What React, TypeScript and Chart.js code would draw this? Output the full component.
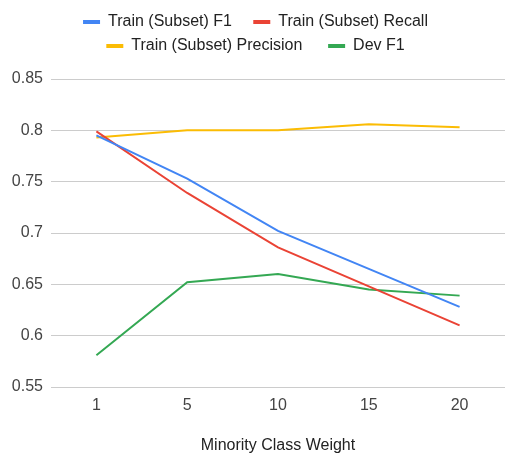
import React, { useEffect, useRef } from "react";
import { Chart, registerables } from "chart.js";

Chart.register(...registerables);

const categories = ["1", "5", "10", "15", "20"];
const trainF1 = [0.795, 0.753, 0.702, 0.665, 0.628];
const trainRecall = [0.799, 0.739, 0.686, 0.648, 0.61];
const trainPrecision = [0.793, 0.8, 0.8, 0.806, 0.803];
const devF1 = [0.581, 0.652, 0.66, 0.645, 0.639];
const yMin = 0.55;
const yMax = 0.85;
const yStep = 0.05;
const xTitle = "Minority Class Weight";

const legendSpacer = {
  id: "legendSpacer",
  afterInit(chart: any) {
    const lg = chart.legend;
    if (!lg || lg.__patched) return;
    const fit = lg.fit;
    lg.fit = function () {
      fit.call(this);
      this.height += 15;
    };
    lg.__patched = true;
  },
};

export default function App() {
  const ref = useRef<HTMLCanvasElement | null>(null);
  useEffect(() => {
    if (!ref.current) return;
    const font = "'Liberation Sans', Arial, sans-serif";
    const chart = new Chart(ref.current, {
      type: "line",
      data: {
        labels: categories,
        datasets: [
          { label: "Train (Subset) F1   ", data: trainF1, borderColor: "#4285F4", backgroundColor: "#4285F4" },
          { label: "Train (Subset) Recall", data: trainRecall, borderColor: "#EA4335", backgroundColor: "#EA4335" },
          { label: "Train (Subset) Precision    ", data: trainPrecision, borderColor: "#FBBC04", backgroundColor: "#FBBC04" },
          { label: "Dev F1", data: devF1, borderColor: "#34A853", backgroundColor: "#34A853" },
        ].map((d) => ({ ...d, borderWidth: 2, pointRadius: 0, tension: 0, fill: false })),
      },
      plugins: [legendSpacer],
      options: {
        animation: false,
        responsive: false,
        layout: { padding: { top: 6, right: 0, left: 6, bottom: 0 } },
        plugins: {
          legend: {
            position: "top",
            labels: {
              boxWidth: 17,
              boxHeight: 4,
              padding: 8,
              color: "#222",
              font: { family: font, size: 16 },
              generateLabels: (c: any) =>
                Chart.defaults.plugins.legend.labels.generateLabels(c).map((l: any) => ({ ...l, lineWidth: 0 })),
            },
          },
          tooltip: { enabled: false },
        },
        scales: {
          x: {
            offset: true,
            grid: { display: false, drawTicks: false },
            border: { display: false },
            ticks: { color: "#444", font: { family: font, size: 16 }, padding: 9 },
            title: { display: true, text: xTitle, color: "#222", font: { family: font, size: 16 }, padding: { top: 0, bottom: -1 } },
            afterFit: (s: any) => { s.height = 67; },
          },
          y: {
            min: yMin,
            max: yMax,
            grid: { color: "#cccccc", drawTicks: false, lineWidth: 1 },
            border: { display: false },
            ticks: {
              stepSize: yStep,
              color: "#444",
              padding: 8,
              font: { family: font, size: 16 },
              callback: (v: any) => String(Number(Number(v).toFixed(2))),
            },
            afterFit: (s: any) => { s.width = 45; },
          },
        },
      },
    });
    return () => chart.destroy();
  }, []);
  return (
    <div style={{ position: "fixed", left: 0, top: 0, width: 505, height: 454, background: "#fff" }}>
      <canvas ref={ref} width={505} height={454} style={{ width: 505, height: 454 }} />
    </div>
  );
}
